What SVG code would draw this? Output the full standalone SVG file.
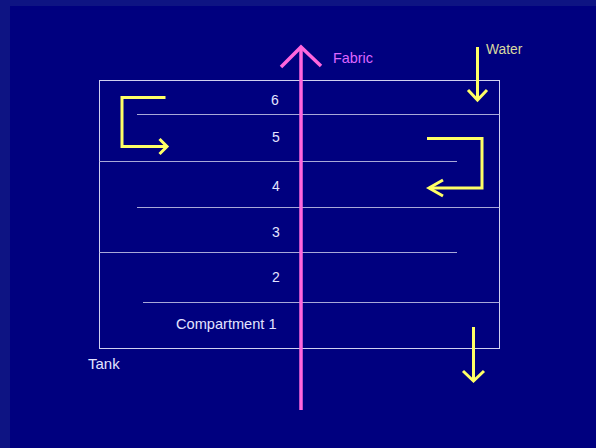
<svg xmlns="http://www.w3.org/2000/svg" width="596" height="448" viewBox="0 0 596 448">
  <style>
    .lbl { font-family: "Liberation Sans", Arial, sans-serif; fill: #e4e4ff; }
    .num { font-size: 14px; text-anchor: middle; }
    .div { stroke: #a8a8d8; stroke-width: 1; fill: none; }
    .flow { stroke: #ffff66; stroke-width: 3; fill: none; stroke-linejoin: miter; }
    .fab { stroke: #ff66dd; stroke-width: 3.5; fill: none; }
  </style>

  <!-- backdrop -->
  <rect x="0" y="0" width="596" height="448" fill="#0e1483"/>
  <rect x="10" y="6" width="586" height="442" fill="#00007f"/>

  <!-- tank with compartment dividers -->
  <g id="tank">
    <rect x="99.5" y="80.5" width="400" height="268" fill="none" stroke="#d0d0f0" stroke-width="1"/>
    <line class="div" x1="137" y1="114.5" x2="499.5" y2="114.5"/>
    <line class="div" x1="99.5" y1="161.5" x2="457" y2="161.5"/>
    <line class="div" x1="137" y1="207.5" x2="499.5" y2="207.5"/>
    <line class="div" x1="99.5" y1="252.5" x2="457" y2="252.5"/>
    <line class="div" x1="143" y1="302.5" x2="499.5" y2="302.5"/>
    <text class="lbl" x="88" y="369" font-size="15">Tank</text>
  </g>

  <g id="compartment-6"><text class="lbl num" x="275" y="104.5">6</text></g>
  <g id="compartment-5"><text class="lbl num" x="276" y="141.5">5</text></g>
  <g id="compartment-4"><text class="lbl num" x="276" y="190.5">4</text></g>
  <g id="compartment-3"><text class="lbl num" x="276" y="237">3</text></g>
  <g id="compartment-2"><text class="lbl num" x="276" y="282">2</text></g>
  <g id="compartment-1"><text class="lbl" x="176" y="329" font-size="14.6">Compartment 1</text></g>

  <!-- flow arrows -->
  <g id="connectors">
    <!-- fabric travelling upward -->
    <line class="fab" x1="301" y1="410" x2="301" y2="47"/>
    <polyline class="fab" points="281,67 301,47 321,66"/>
    <!-- water entering at top -->
    <line class="flow" x1="477.5" y1="47" x2="477.5" y2="100"/>
    <polyline class="flow" points="468,90 477.5,100 487,90"/>
    <!-- cascade at compartment 5 -->
    <polyline class="flow" points="165.5,97.5 122,97.5 122,146.5 167,146.5"/>
    <polyline class="flow" points="159.5,139 167,146.5 159.5,154"/>
    <!-- cascade at compartment 4 -->
    <polyline class="flow" points="427,138.5 482,138.5 482,188 429,188"/>
    <polyline class="flow" points="443,180 429,188 443,196"/>
    <!-- water leaving at bottom -->
    <line class="flow" x1="473.5" y1="327" x2="473.5" y2="381"/>
    <polyline class="flow" points="463,371 473.5,381 484,371"/>
  </g>

  <g id="label-fabric"><text x="333" y="63" font-family="Liberation Sans, Arial, sans-serif" font-size="14.4" fill="#dd66ff">Fabric</text></g>
  <g id="label-water"><text x="486" y="54" font-family="Liberation Sans, Arial, sans-serif" font-size="13.8" fill="#d8d8a0">Water</text></g>
</svg>
